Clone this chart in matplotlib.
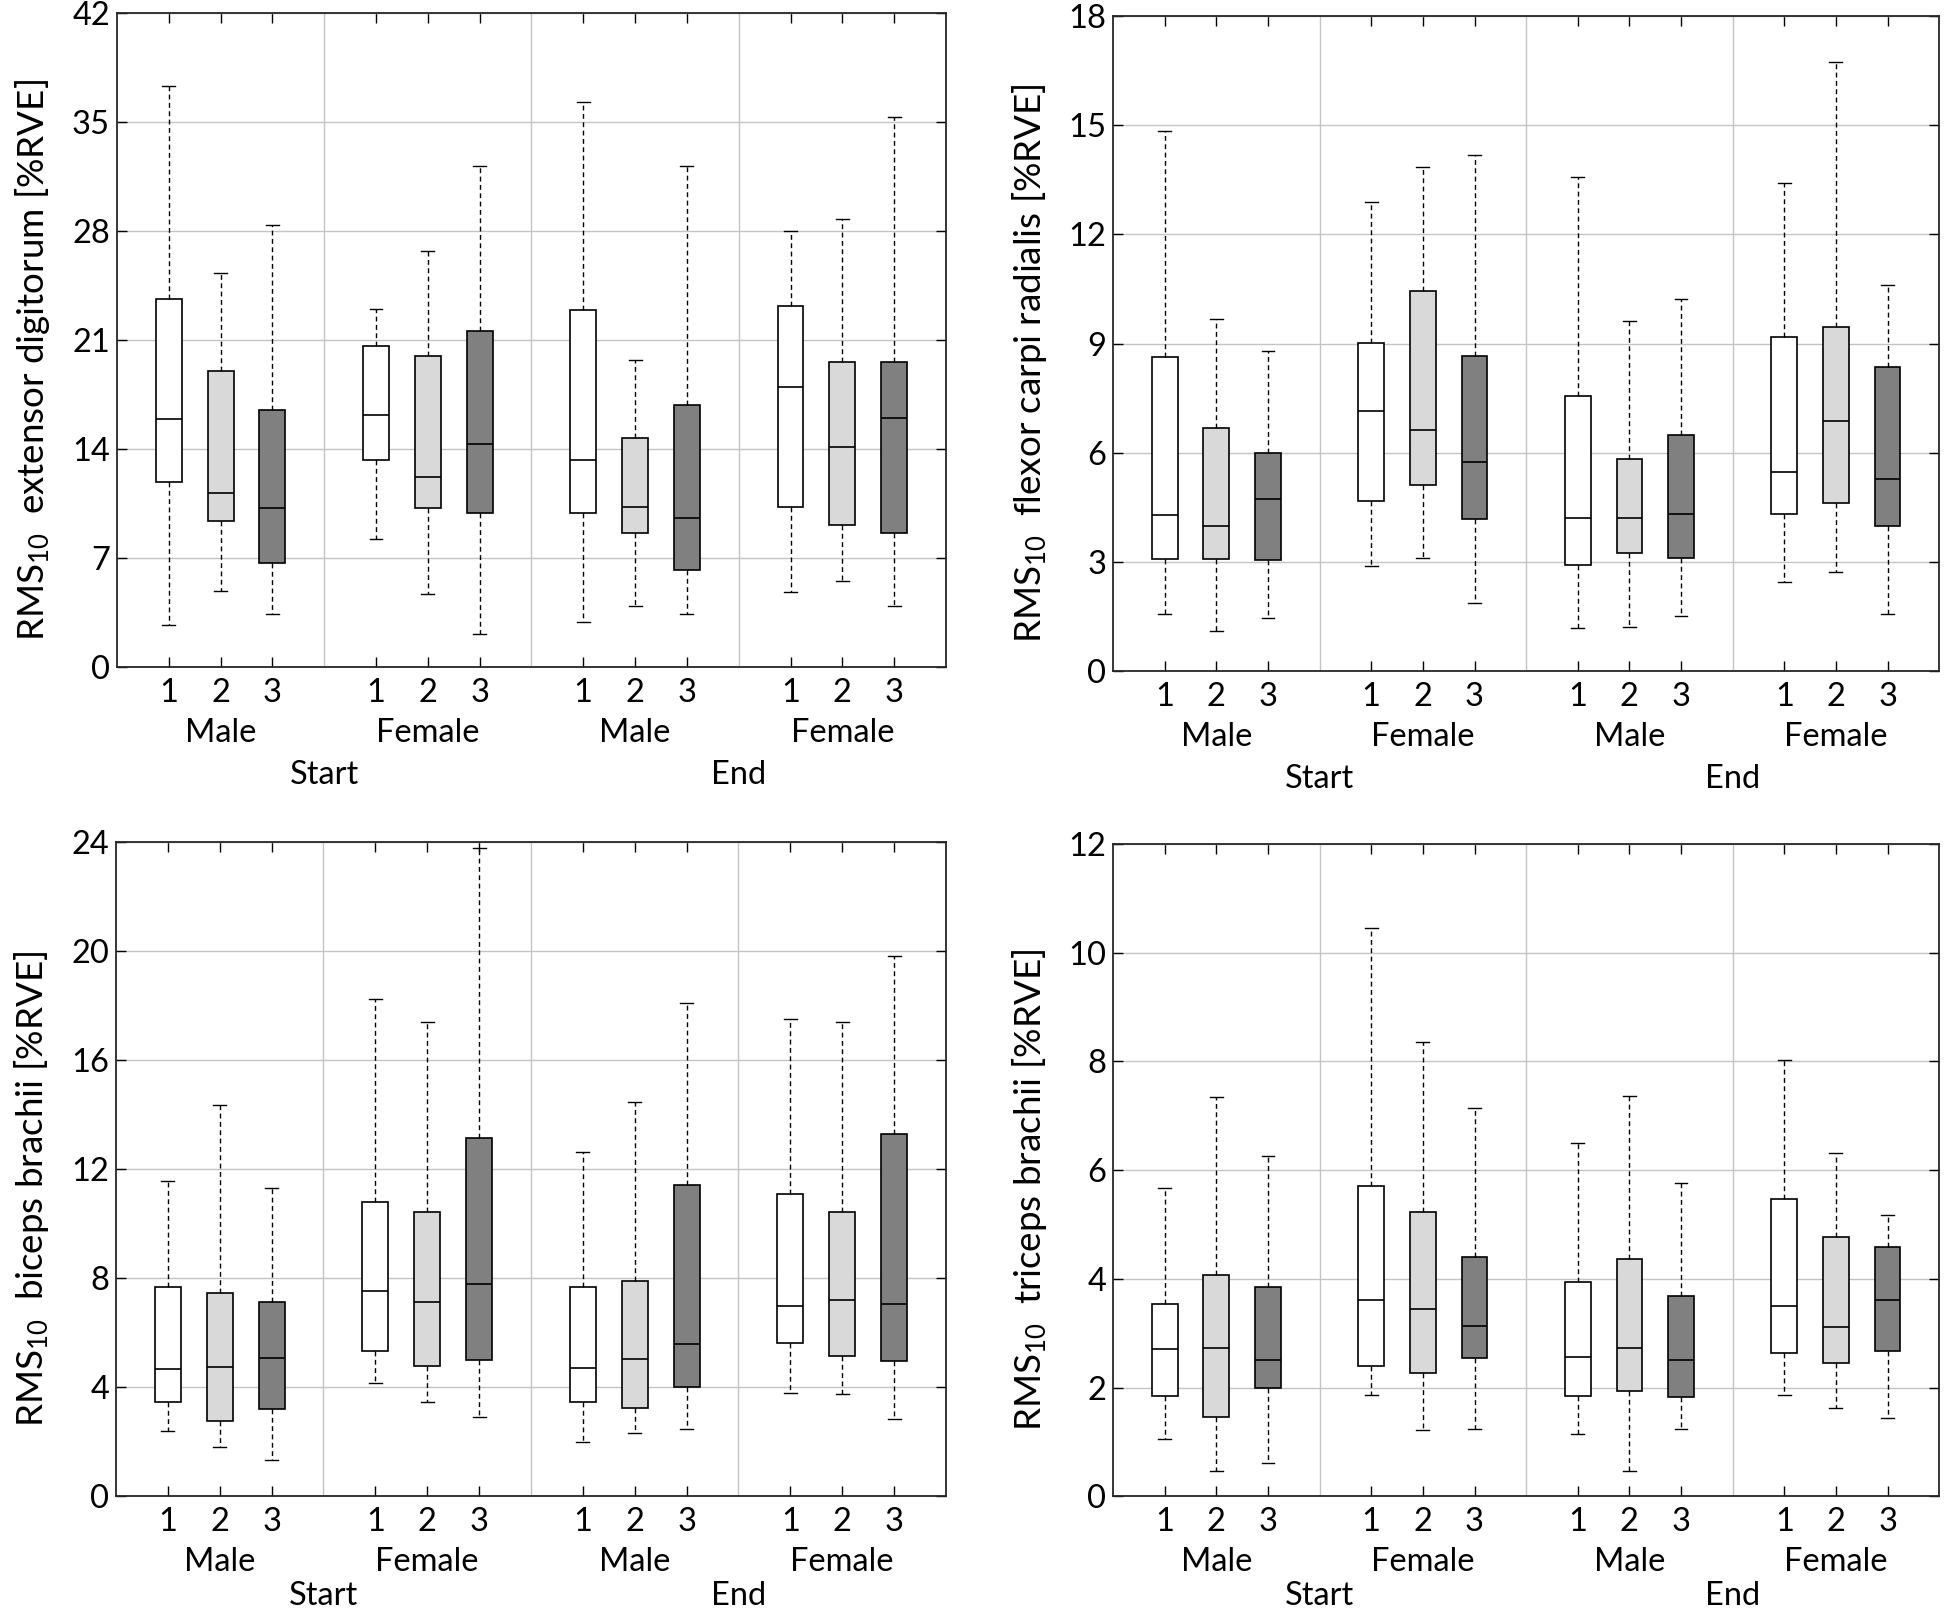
import numpy as np
import matplotlib
matplotlib.use("Agg")
import matplotlib.pyplot as plt

plt.rcParams['font.family'] = ['Lato', 'DejaVu Sans']
plt.rcParams['mathtext.default'] = 'regular'

# order of boxes: Start-Male 1,2,3 | Start-Female 1,2,3 | End-Male 1,2,3 | End-Female 1,2,3
ext_lo  = [2.7, 4.9, 3.4, 8.2, 4.7, 2.1, 2.9, 3.9, 3.4, 4.8, 5.5, 3.9]
ext_q1  = [11.9, 9.4, 6.7, 13.3, 10.2, 9.9, 9.9, 8.6, 6.2, 10.3, 9.1, 8.6]
ext_med = [15.9, 11.2, 10.2, 16.2, 12.2, 14.3, 13.3, 10.3, 9.6, 18.0, 14.1, 16.0]
ext_q3  = [23.6, 19.0, 16.5, 20.6, 20.0, 21.6, 22.9, 14.7, 16.8, 23.2, 19.6, 19.6]
ext_hi  = [37.3, 25.3, 28.4, 23.0, 26.7, 32.2, 36.3, 19.7, 32.2, 28.0, 28.8, 35.3]

flx_lo  = [1.56, 1.11, 1.46, 2.88, 3.11, 1.86, 1.18, 1.21, 1.50, 2.46, 2.71, 1.56]
flx_q1  = [3.08, 3.08, 3.04, 4.68, 5.11, 4.17, 2.92, 3.24, 3.11, 4.32, 4.61, 4.00]
flx_med = [4.29, 4.00, 4.74, 7.14, 6.63, 5.75, 4.22, 4.22, 4.32, 5.47, 6.86, 5.28]
flx_q3  = [8.62, 6.69, 6.00, 9.01, 10.45, 8.65, 7.55, 5.82, 6.49, 9.18, 9.45, 8.36]
flx_hi  = [14.83, 9.68, 8.80, 12.90, 13.84, 14.17, 13.57, 9.63, 10.22, 13.40, 16.74, 10.60]

bic_lo  = [2.40, 1.80, 1.32, 4.16, 3.44, 2.91, 2.00, 2.32, 2.46, 3.80, 3.74, 2.82]
bic_q1  = [3.44, 2.76, 3.21, 5.33, 4.76, 5.01, 3.44, 3.25, 4.02, 5.63, 5.14, 4.97]
bic_med = [4.67, 4.74, 5.08, 7.52, 7.14, 7.79, 4.71, 5.05, 5.57, 6.99, 7.20, 7.07]
bic_q3  = [7.69, 7.46, 7.11, 10.81, 10.43, 13.15, 7.69, 7.88, 11.43, 11.09, 10.43, 13.27]
bic_hi  = [11.56, 14.36, 11.32, 18.25, 17.38, 23.79, 12.62, 14.46, 18.08, 17.50, 17.38, 19.82]

tri_lo  = [1.06, 0.47, 0.62, 1.86, 1.21, 1.23, 1.15, 0.47, 1.23, 1.86, 1.62, 1.44]
tri_q1  = [1.84, 1.46, 2.00, 2.40, 2.26, 2.54, 1.84, 1.93, 1.82, 2.63, 2.46, 2.68]
tri_med = [2.71, 2.73, 2.51, 3.61, 3.44, 3.14, 2.56, 2.73, 2.51, 3.50, 3.12, 3.61]
tri_q3  = [3.54, 4.07, 3.85, 5.71, 5.22, 4.41, 3.95, 4.36, 3.68, 5.46, 4.76, 4.59]
tri_hi  = [5.67, 7.35, 6.25, 10.45, 8.35, 7.15, 6.50, 7.36, 5.76, 8.02, 6.32, 5.18]

positions = [1, 2, 3, 5, 6, 7, 9, 10, 11, 13, 14, 15]
tick_labels = ['1', '2', '3'] * 4
sex_labels = ['Male', 'Female', 'Male', 'Female']
time_labels = ['Start', 'End']
box_colors = ['white', '#d9d9d9', '#808080']

panels = [
    (ext_lo, ext_q1, ext_med, ext_q3, ext_hi, 'extensor digitorum', np.arange(0, 43, 7), 42),
    (flx_lo, flx_q1, flx_med, flx_q3, flx_hi, 'flexor carpi radialis', np.arange(0, 19, 3), 18),
    (bic_lo, bic_q1, bic_med, bic_q3, bic_hi, 'biceps brachii', np.arange(0, 25, 4), 24),
    (tri_lo, tri_q1, tri_med, tri_q3, tri_hi, 'triceps brachii', np.arange(0, 13, 2), 12),
]

rects = [
    [0.0601, 0.588, 0.426, 0.404],
    [0.5720, 0.5855, 0.4245, 0.4046],
    [0.0596, 0.0758, 0.4265, 0.4042],
    [0.5720, 0.0758, 0.4245, 0.4030],
]
# offset (pixels) of the Start/End row below each axes
time_offsets = [-108, -108, -100, -100]

fig = plt.figure(figsize=(19.46, 16.19), dpi=100)

for (lo, q1, med, q3, hi, muscle, yticks, ymax), rect, toff in zip(panels, rects, time_offsets):
    ax = fig.add_axes(rect)
    stats = [dict(whislo=a, q1=b, med=c, q3=d, whishi=e, fliers=[])
             for a, b, c, d, e in zip(lo, q1, med, q3, hi)]
    bp = ax.bxp(stats, positions=positions, widths=0.5, capwidths=0.25,
                patch_artist=True, showfliers=False,
                boxprops=dict(edgecolor='black', linewidth=1.2),
                whiskerprops=dict(color='black', linewidth=1.0, linestyle=(0, (3.5, 2.5))),
                capprops=dict(color='black', linewidth=1.0),
                medianprops=dict(color='black', linewidth=1.2))
    for i, patch in enumerate(bp['boxes']):
        patch.set_facecolor(box_colors[i % 3])

    ax.set_xlim(0, 16)
    ax.set_ylim(0, ymax)
    ax.set_yticks(yticks)
    ax.set_xticks(positions)
    ax.set_xticklabels(tick_labels)
    ax.tick_params(direction='in', length=7, width=1.0, labelsize=23.5,
                   top=True, right=True)
    ax.tick_params(axis='x', pad=8)
    ax.tick_params(axis='y', pad=5)
    ax.grid(axis='y', color='#c4c4c4', linewidth=1.0)
    ax.set_axisbelow(True)
    for xs in [4, 8, 12]:
        ax.axvline(xs, color='#c4c4c4', linewidth=1.0, zorder=0)
    for sp in ax.spines.values():
        sp.set_linewidth(1.3)
        sp.set_color('#262626')

    for k, lab in enumerate(sex_labels):
        ax.annotate(lab, xy=(2 + 4 * k, 0), xycoords=('data', 'axes fraction'),
                    xytext=(0, -66), textcoords='offset pixels',
                    ha='center', va='center', fontsize=23.5)
    for k, lab in enumerate(time_labels):
        ax.annotate(lab, xy=(4 + 8 * k, 0), xycoords=('data', 'axes fraction'),
                    xytext=(0, toff), textcoords='offset pixels',
                    ha='center', va='center', fontsize=23.5)

    ax.set_ylabel('RMS$_{10}$  ' + muscle + ' [%RVE]', fontsize=26.5)
    ax.yaxis.set_label_coords(-0.078, 0.47)

fig.savefig('out.png', dpi=100)
